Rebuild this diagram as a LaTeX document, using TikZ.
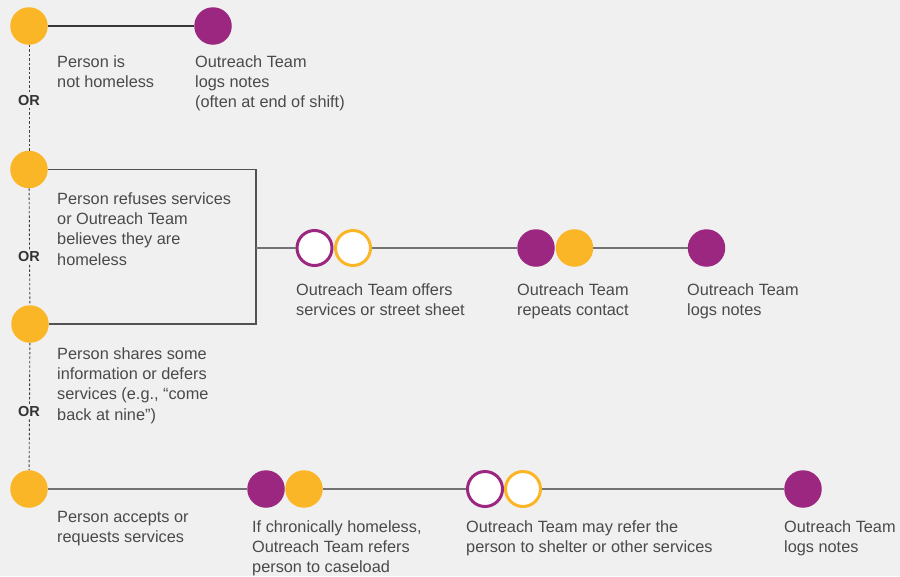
\documentclass[tikz,border=0pt]{standalone}
\usepackage{fontspec}
\setmainfont{Liberation Sans}
\definecolor{bg}{HTML}{EFF0EF}
\definecolor{yel}{HTML}{FBB627}
\definecolor{pur}{HTML}{9C2780}
\definecolor{txt}{HTML}{4A4A4A}
\definecolor{orc}{HTML}{333333}
\begin{document}
\begin{tikzpicture}[x=1pt,y=-1pt,
  dot/.style={circle,inner sep=0pt,minimum size=37.5pt,draw=none},
  fy/.style={dot,fill=yel},
  fp/.style={dot,fill=pur},
  hol/.style={circle,inner sep=0pt,minimum size=35pt,line width=3pt,fill=white},
  hp/.style={hol,draw=pur},
  hy/.style={hol,draw=yel},
  lbl/.style={anchor=north west,inner sep=0pt,align=left,text=txt,font=\fontsize{16.3}{20.3}\selectfont},
  orl/.style={fill=bg,inner sep=1.5pt,text=orc,font=\fontsize{14.5}{15}\selectfont\bfseries},
  dline/.style={draw=black!75,line width=0.9pt,dash pattern=on 2.5pt off 2pt},
  kline/.style={draw=black!78,line width=1.4pt},
  bline/.style={draw=black!68,line width=1.4pt},
  gline/.style={draw=black!55,line width=1.4pt}]
\useasboundingbox (0,0) rectangle (900,576);
\fill[bg] (0,0) rectangle (900,576);
% left column
\node[fy] (c1) at (29,26) {};
\node[fy] (c2) at (29,169.5) {};
\node[fy] (c3) at (30,324) {};
\node[fy] (c4) at (29,489) {};
\node[fp] (p1) at (213,26) {};
% dashed spine
\draw[dline] (c1) -- (c2);
\draw[dline] (c2) -- (c3);
\draw[dline] (c3) -- (c4);
\node[orl] (or1) at (29,101) {OR};
\node[orl] (or2) at (29,257) {OR};
\node[orl] (or3) at (29,412) {OR};
% row 1
\draw[kline] (c1) -- (p1);
% box
\coordinate (b1) at (256,169.5);
\coordinate (b2) at (256,324);
\coordinate (bj) at (256,248);
\draw[bline] (c2) -- (b1) -- (b2) -- (c3);
% row 2
\node[hp] (h1) at (314.5,248) {};
\node[hy] (h2) at (353,248) {};
\node[fp] (f1) at (536,248) {};
\node[fy] (f2) at (574.5,248) {};
\node[fp] (f3) at (706.5,248) {};
\draw[gline] (bj) -- (h1);
\draw[gline] (h2) -- (f1);
\draw[gline] (f2) -- (f3);
% row 4
\node[fp] (g1) at (266,489) {};
\node[fy] (g2) at (304,489) {};
\node[hp] (k1) at (485,489) {};
\node[hy] (k2) at (523,489) {};
\node[fp] (g3) at (803,489) {};
\draw[gline] (c4) -- (g1);
\draw[gline] (g2) -- (k1);
\draw[gline] (k2) -- (g3);
% labels (first baseline minus strut height)
\node[lbl] (t1) at (57,52.8) {\strut Person is\\not homeless};
\node[lbl] (t2) at (195,52.8) {\strut Outreach Team\\logs notes\\(often at end of shift)};
\node[lbl] (t3) at (57,189.8) {\strut Person refuses services\\or Outreach Team\\believes they are\\homeless};
\node[lbl] (t4) at (296,280.8) {\strut Outreach Team offers\\services or street sheet};
\node[lbl] (t5) at (517,280.8) {\strut Outreach Team\\repeats contact};
\node[lbl] (t6) at (687,280.8) {\strut Outreach Team\\logs notes};
\node[lbl] (t7) at (57,344.8) {\strut Person shares some\\information or defers\\services (e.g., “come\\back at nine”)};
\node[lbl] (t8) at (57,507.8) {\strut Person accepts or\\requests services};
\node[lbl] (t9) at (252,517.8) {\strut If chronically homeless,\\Outreach Team refers\\person to caseload};
\node[lbl] (t10) at (466,517.8) {\strut Outreach Team may refer the\\person to shelter or other services};
\node[lbl] (t11) at (784,517.8) {\strut Outreach Team\\logs notes};
\end{tikzpicture}
\end{document}
